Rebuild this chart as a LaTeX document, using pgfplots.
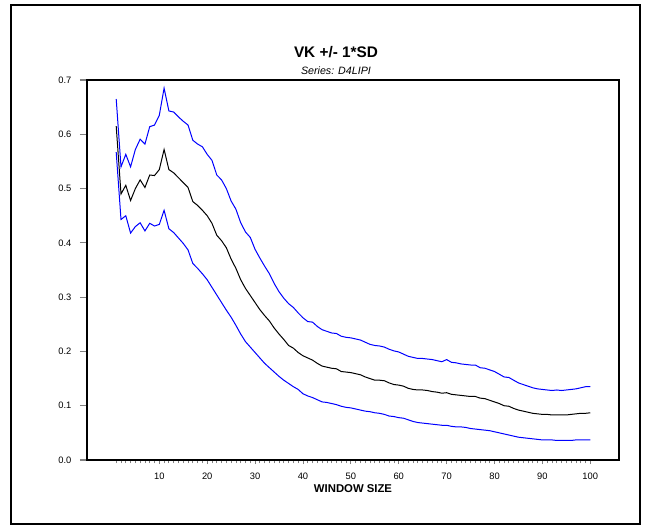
\documentclass[border=0pt]{standalone}
\usepackage{fontspec}
\setmainfont{Liberation Sans}
\usepackage{pgfplots}
\usepackage{pgfplotstable}
\pgfplotsset{compat=1.18}

% window size, mean+SD, mean, mean-SD
\pgfplotstableread{
w up mid lo
1 0.665 0.615 0.567
2 0.540 0.490 0.443
3 0.563 0.506 0.450
4 0.540 0.478 0.418
5 0.572 0.500 0.430
6 0.591 0.516 0.437
7 0.582 0.502 0.422
8 0.614 0.525 0.436
9 0.617 0.524 0.431
10 0.635 0.535 0.434
11 0.685 0.572 0.460
12 0.643 0.535 0.426
13 0.641 0.529 0.419
14 0.632 0.520 0.409
15 0.624 0.511 0.399
16 0.617 0.502 0.387
17 0.589 0.476 0.362
18 0.582 0.469 0.353
19 0.577 0.460 0.343
20 0.563 0.450 0.332
21 0.552 0.436 0.318
22 0.525 0.414 0.304
23 0.516 0.404 0.290
24 0.500 0.391 0.276
25 0.477 0.370 0.263
26 0.462 0.353 0.248
27 0.437 0.332 0.232
28 0.420 0.316 0.218
29 0.410 0.303 0.208
30 0.388 0.290 0.198
31 0.372 0.277 0.188
32 0.357 0.266 0.178
33 0.343 0.256 0.170
34 0.325 0.243 0.162
35 0.310 0.232 0.154
36 0.298 0.222 0.147
37 0.288 0.211 0.141
38 0.281 0.206 0.135
39 0.271 0.198 0.130
40 0.262 0.192 0.122
41 0.255 0.188 0.118
42 0.254 0.184 0.115
43 0.246 0.178 0.111
44 0.240 0.173 0.107
45 0.237 0.171 0.106
46 0.234 0.169 0.104
47 0.233 0.168 0.102
48 0.228 0.163 0.099
49 0.226 0.162 0.097
50 0.225 0.161 0.096
51 0.223 0.159 0.094
52 0.221 0.157 0.092
53 0.217 0.153 0.090
54 0.213 0.150 0.089
55 0.211 0.147 0.087
56 0.210 0.147 0.086
57 0.208 0.146 0.084
58 0.204 0.142 0.081
59 0.201 0.139 0.080
60 0.199 0.138 0.078
61 0.195 0.136 0.077
62 0.191 0.132 0.074
63 0.189 0.130 0.071
64 0.187 0.129 0.069
65 0.187 0.129 0.068
66 0.186 0.128 0.067
67 0.185 0.126 0.066
68 0.183 0.125 0.065
69 0.181 0.123 0.064
70 0.185 0.124 0.064
71 0.180 0.121 0.062
72 0.179 0.120 0.061
73 0.177 0.119 0.061
74 0.176 0.118 0.060
75 0.175 0.117 0.058
76 0.175 0.117 0.057
77 0.170 0.114 0.056
78 0.169 0.113 0.055
79 0.166 0.110 0.054
80 0.163 0.107 0.052
81 0.158 0.104 0.050
82 0.153 0.100 0.048
83 0.152 0.099 0.046
84 0.147 0.095 0.044
85 0.142 0.092 0.042
86 0.139 0.090 0.041
87 0.136 0.088 0.040
88 0.133 0.086 0.039
89 0.131 0.085 0.038
90 0.130 0.084 0.037
91 0.129 0.084 0.037
92 0.128 0.083 0.037
93 0.129 0.083 0.036
94 0.128 0.083 0.036
95 0.129 0.083 0.036
96 0.130 0.084 0.036
97 0.131 0.085 0.037
98 0.133 0.086 0.037
99 0.135 0.086 0.037
100 0.135 0.087 0.037
}\vkdata

\begin{document}
\begin{tikzpicture}
% page is 649 x 529 px at 0.75pt per px
\path[use as bounding box] (0,0) rectangle (486.75pt,396.75pt);
\draw[line width=1pt] (8.25pt,3.75pt) rectangle (480pt,393pt);

\begin{axis}[
  at={(65.25pt,51.75pt)}, anchor=south west,
  scale only axis, width=399pt, height=285pt,
  xmin=-5.1, xmax=106, ymin=0, ymax=0.7,
  axis line style={line width=0.8pt},
  tick pos=left, tick align=outside,
  xtick={10,20,...,100},
  minor xtick={1,...,100},
  ytick={0,0.1,...,0.7},
  major tick length=5.25pt, minor tick length=2.6pt,
  xtick style={/pgfplots/major tick length=3pt, line width=0.6pt},
  minor tick style={line width=0.6pt},
  ytick style={line width=0.8pt},
  ticklabel style={font=\fontsize{7}{8}\selectfont},
  yticklabel style={xshift=-3pt,
    /pgf/number format/.cd, fixed, fixed zerofill, precision=1},
  xticklabel style={yshift=-1pt},
  /pgf/number format/assume math mode=true,
  every axis plot/.append style={line width=0.75pt},
  clip=false,
]
\addplot[blue, mark=none] table[x=w, y=up] {\vkdata};
\addplot[black, mark=none] table[x=w, y=mid] {\vkdata};
\addplot[blue, mark=none] table[x=w, y=lo] {\vkdata};

\node[font=\bfseries\fontsize{11.5}{13}\selectfont] at (rel axis cs:0.468,1.0737) {VK +/- 1*SD};
\node[font=\itshape\fontsize{8}{9}\selectfont] at (rel axis cs:0.468,1.0237) {Series: D4LIPI};
\node[font=\bfseries\fontsize{8.5}{10}\selectfont] at (rel axis cs:0.5,-0.0763) {WINDOW SIZE};
\end{axis}
\end{tikzpicture}
\end{document}
